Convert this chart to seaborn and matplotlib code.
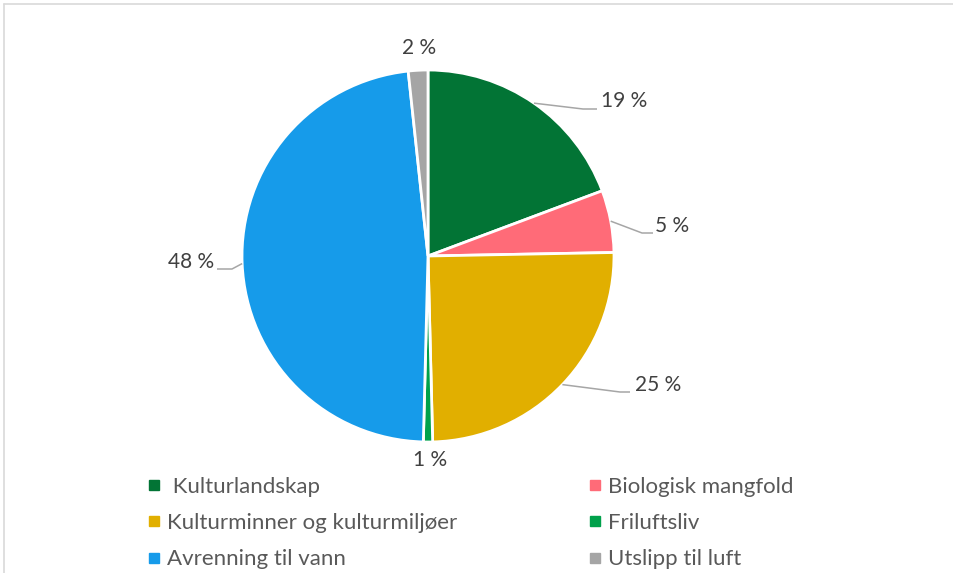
import numpy as np
import matplotlib.pyplot as plt
import seaborn as sns
from matplotlib.lines import Line2D

sns.set_theme(style="white")
plt.rcParams['font.family'] = ['Lato', 'DejaVu Sans']

# data
labels = [' Kulturlandskap', 'Biologisk mangfold', 'Kulturminner og kulturmiljøer',
          'Friluftsliv', 'Avrenning til vann', 'Utslipp til luft']
values = [19.3, 5.4, 24.9, 0.8, 47.9, 1.7]
colors = ['#027435', '#FF6B78', '#E1AF00', '#00A14B', '#169BEA', '#A5A5A5']

# layout of the labels (pixel positions in the picture, y down)
cx, cy, r = 428, 256, 186
label_pos = [(601, 101, 'left'), (655, 226, 'left'), (635, 385, 'left'),
             (430, 460, 'center'), (214, 262, 'right'), (419, 48, 'center')]
leader = [((583, 109), (597, 109)), ((642, 233), (653, 233)), ((620, 392), (630, 392)),
          None, ((232, 269), (217, 269)), None]


def px(x, y):
    return x - cx, cy - y


fig = plt.figure(figsize=(9.54, 5.73), dpi=100)
ax = fig.add_axes([0, 0, 1, 1])
wedges, _ = ax.pie(values, colors=colors, startangle=90, counterclock=False,
                   radius=r, center=(0, 0),
                   wedgeprops=dict(edgecolor='white', linewidth=2))
ax.set_xlim(-cx, 954 - cx)
ax.set_ylim(-(573 - cy), cy)
ax.set_aspect('equal')
ax.axis('off')

# percent labels with leader lines
total = sum(values)
cum = np.cumsum([0] + values[:-1])
for i, v in enumerate(values):
    theta = np.deg2rad(360 * (cum[i] + v / 2) / total)
    x0, y0 = r * np.sin(theta), r * np.cos(theta)
    tx, ty, ha = label_pos[i]
    ax.text(*px(tx, ty), f'{round(v)} %', ha=ha, va='center',
            fontsize=15, color='#404040')
    if leader[i] is not None:
        e, f = leader[i]
        xs = [x0, px(*e)[0], px(*f)[0]]
        ys = [y0, px(*e)[1], px(*f)[1]]
        ax.plot(xs, ys, color='#A6A6A6', lw=1.1, solid_capstyle='butt')

# legend, two columns
for col, x_anchor in [(0, 149), (1, 590)]:
    idx = [col, col + 2, col + 4]
    handles = [Line2D([], [], marker='s', ls='', color=colors[j], markersize=6.5)
               for j in idx]
    fig.legend(handles, [labels[j] for j in idx], loc='upper left',
               bbox_to_anchor=(x_anchor / 954, 1 - 477 / 573),
               frameon=False, fontsize=16, labelcolor='#595959',
               handlelength=0.41, handletextpad=0.4, borderpad=0,
               borderaxespad=0, labelspacing=0.73)

# chart frame (top and left edges visible)
fig.add_artist(Line2D([4 / 954, 1], [1 - 4 / 573, 1 - 4 / 573], color='#D9D9D9', lw=1.2))
fig.add_artist(Line2D([4 / 954, 4 / 954], [0, 1 - 4 / 573], color='#D9D9D9', lw=1.2))

fig.savefig('out.png', dpi=100)
